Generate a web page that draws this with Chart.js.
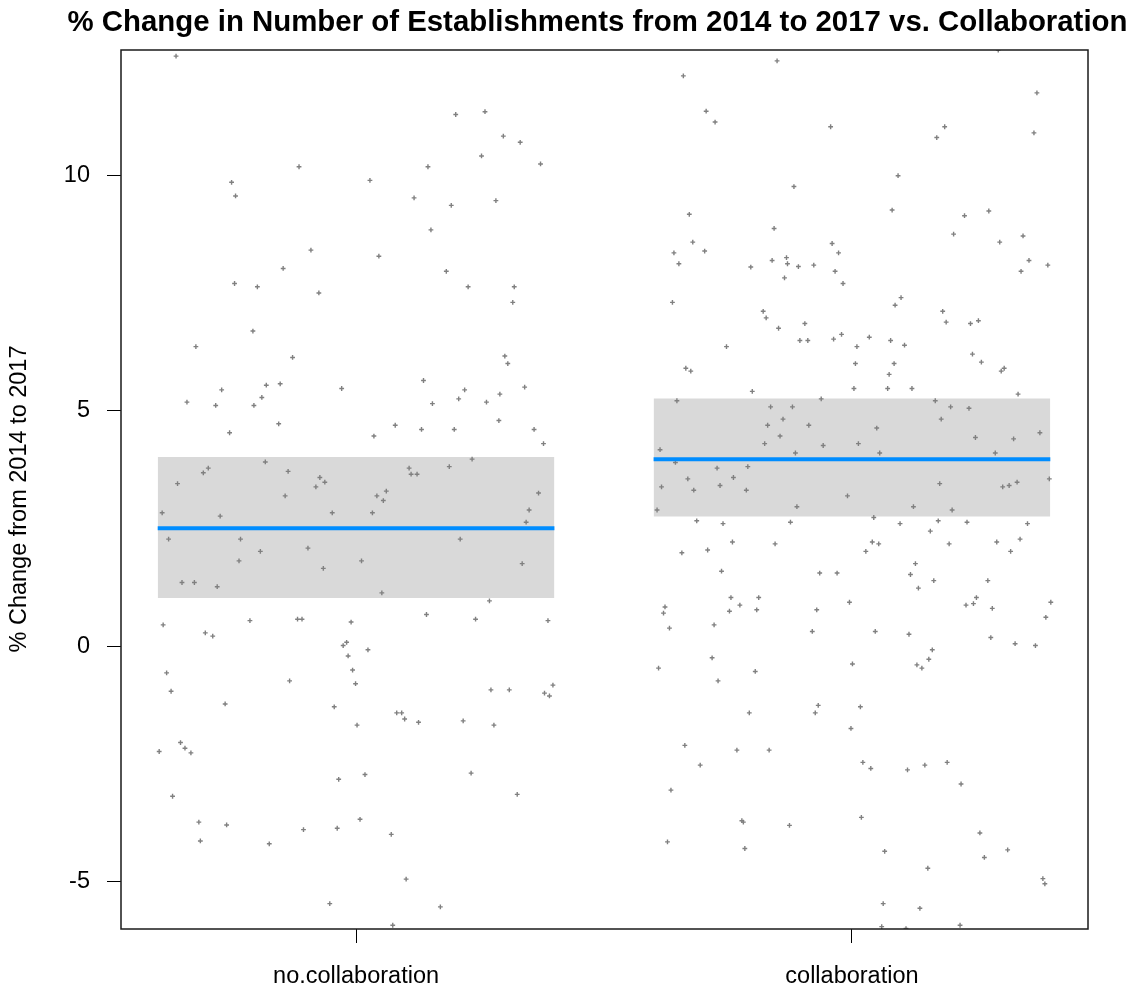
<!DOCTYPE html>
<html><head><meta charset="utf-8">
<script src="https://cdn.jsdelivr.net/npm/chart.js@4.4.1/dist/chart.umd.min.js"></script>
<style>html,body{margin:0;padding:0;background:#fff}canvas{display:block}</style>
</head><body>
<canvas id="c" width="1143" height="992"></canvas>
<script>
const chartTitle = '% Change in Number of Establishments from 2014 to 2017 vs. Collaboration';
const yAxisLabel = '% Change from 2014 to 2017';
const categories = ['no.collaboration', 'collaboration'];
const yTickValues = [-5, 0, 5, 10];
const fitValues = [2.50, 3.97];
const bandLower = [1.02, 2.75];
const bandUpper = [4.015, 5.26];

const noCollabJitter = [
-0.363,0.201,0.260,0.297,0.331,0.253,0.145,0.372,-0.115,-0.251,
-0.243,0.028,0.117,0.192,0.282,0.151,-0.091,0.046,-0.147,0.182,
-0.245,-0.199,-0.075,0.226,0.319,0.316,-0.208,-0.323,-0.128,0.300,
0.306,0.136,-0.271,-0.181,-0.153,-0.029,0.219,0.340,-0.341,-0.283,
-0.206,-0.190,0.154,0.207,0.263,0.290,0.288,-0.156,-0.255,0.079,
0.036,0.132,0.198,0.359,0.378,0.234,-0.183,-0.298,-0.308,-0.137,
0.107,0.111,0.123,0.188,-0.360,-0.073,-0.063,-0.081,-0.143,0.042,
0.061,0.055,0.368,-0.391,-0.274,-0.048,0.033,0.349,0.343,-0.378,
-0.233,0.210,-0.193,-0.097,-0.236,0.011,-0.066,0.335,-0.351,-0.326,
-0.280,0.052,0.269,0.142,0.241,-0.389,-0.214,-0.118,-0.109,-0.010,
0.387,-0.304,-0.289,-0.026,-0.019,0.024,-0.016,-0.007,-0.001,-0.382,
-0.373,-0.134,-0.264,-0.044,0.002,0.082,0.092,0.098,0.126,0.216,
0.278,0.272,0.309,0.380,0.390,0.397,-0.354,-0.345,-0.397,-0.333,
-0.035,0.018,0.232,0.325,-0.370,-0.317,-0.261,-0.314,-0.175,-0.106,
-0.038,0.008,0.071,0.101,-0.053,0.170,0.074];
const noCollabValues = [
12.53,11.29,11.35,10.83,10.70,10.41,10.18,10.24,10.18,9.85,
9.56,9.89,9.52,9.36,9.46,8.84,8.41,8.28,8.02,7.96,
7.70,7.63,7.50,7.63,7.63,7.30,6.69,6.36,6.13,6.16,
6.00,5.64,5.44,5.54,5.57,5.47,5.44,5.50,5.18,5.11,
5.11,5.28,5.15,5.25,5.18,5.35,4.79,4.72,4.53,4.69,
4.46,4.60,4.60,4.60,4.30,3.97,3.91,3.78,3.68,3.71,
3.78,3.65,3.65,3.81,3.45,3.58,3.48,3.38,3.19,3.19,
3.29,3.09,3.25,2.83,2.76,2.83,2.83,2.89,2.63,2.27,
2.27,2.27,2.01,2.08,1.81,1.81,1.65,1.75,1.35,1.35,
1.26,1.13,0.96,0.67,0.57,0.45,0.54,0.57,0.57,0.51,
0.54,0.28,0.21,0.01,0.08,-0.08,-0.21,-0.51,-0.80,-0.57,
-0.96,-0.74,-1.23,-1.29,-1.68,-1.42,-1.42,-1.55,-1.62,-1.59,
-1.68,-0.93,-0.93,-1.00,-1.06,-0.83,-2.05,-2.17,-2.24,-2.27,
-2.83,-2.73,-2.70,-3.15,-3.19,-3.74,-3.80,-4.14,-4.20,-3.90,
-3.87,-3.68,-4.00,-4.95,-5.47,-5.54,-5.93];

const collabJitter = [
0.295,-0.151,-0.340,0.373,-0.294,-0.276,-0.043,0.187,0.171,0.367,
0.093,-0.117,0.081,0.227,0.276,-0.328,-0.157,0.205,0.298,0.345,
-0.321,-0.359,-0.297,-0.349,-0.040,-0.027,-0.161,-0.132,-0.130,-0.108,
-0.077,-0.204,-0.034,-0.136,-0.018,0.357,0.341,0.395,-0.362,0.099,
0.087,0.183,0.190,0.239,0.255,-0.179,-0.173,-0.148,-0.095,-0.021,
-0.037,0.035,-0.105,-0.089,0.078,0.010,0.106,-0.253,-0.335,-0.325,
0.007,0.085,0.075,0.243,0.261,0.301,0.307,0.004,0.072,0.121,
-0.201,0.335,-0.353,-0.062,0.168,-0.164,-0.120,0.199,0.236,-0.139,
0.180,-0.170,-0.087,0.050,-0.145,0.249,0.326,0.379,-0.176,-0.058,
0.013,-0.387,-0.114,0.056,0.289,-0.356,-0.272,-0.210,-0.331,-0.239,
-0.384,-0.319,-0.266,-0.213,-0.009,0.177,0.304,0.317,0.333,0.398,
-0.393,-0.111,0.124,0.202,-0.313,-0.260,-0.124,0.044,0.097,0.174,
0.232,0.354,0.158,-0.241,-0.155,0.041,0.054,0.196,0.292,0.339,
-0.343,-0.291,0.028,0.320,0.128,-0.263,-0.065,-0.030,0.118,0.165,
0.274,0.134,-0.244,-0.188,-0.226,-0.247,-0.192,-0.071,-0.005,-0.377,
-0.380,0.230,0.245,0.251,0.283,0.401,0.391,-0.368,-0.278,-0.080,
0.047,0.115,0.280,0.329,0.370,0.162,0.155,0.131,0.141,0.001,
-0.282,-0.390,-0.195,-0.270,-0.068,-0.074,0.017,-0.207,-0.002,-0.337,
-0.232,-0.167,-0.306,0.022,0.038,0.112,0.147,0.192,0.220,-0.365,
-0.222,-0.219,-0.126,0.019,0.258,-0.372,-0.216,0.066,0.267,0.314,
0.153,0.385,0.389,0.063,0.137,0.060,0.109,0.218];
const collabValues = [
12.66,12.43,12.11,11.75,11.36,11.13,11.03,11.03,10.80,10.90,
9.99,9.76,9.26,9.14,9.24,9.17,8.87,8.75,8.58,8.71,
8.58,8.35,8.39,8.12,8.55,8.35,8.19,8.25,8.12,8.06,
8.09,8.05,7.96,7.82,7.70,8.19,7.96,8.09,7.30,7.40,
7.24,7.11,6.88,6.85,6.91,7.11,6.97,6.75,6.85,6.62,
6.52,6.56,6.49,6.49,6.49,6.36,6.39,6.36,5.90,5.84,
6.00,6.00,5.77,6.20,6.03,5.84,5.90,5.47,5.47,5.47,
5.41,5.35,5.21,5.25,5.21,5.08,5.08,5.08,5.05,4.82,
4.82,4.69,4.69,4.63,4.46,4.43,4.40,4.53,4.30,4.26,
4.30,4.17,4.10,4.10,4.10,3.90,3.78,3.81,3.55,3.58,
3.38,3.31,3.41,3.31,3.19,3.45,3.38,3.41,3.48,3.55,
2.89,2.96,2.96,2.89,2.66,2.60,2.63,2.73,2.60,2.66,
2.63,2.60,2.44,2.21,2.17,2.21,2.17,2.17,2.21,2.27,
1.98,2.04,2.01,2.01,1.75,1.59,1.55,1.55,1.52,1.39,
1.39,1.23,1.03,1.03,0.87,0.74,0.77,0.77,0.93,0.83,
0.70,0.87,0.90,1.03,0.80,0.93,0.61,0.38,0.45,0.31,
0.31,0.25,0.18,0.05,0.01,-0.08,-0.28,-0.40,-0.47,-0.38,
-0.25,-0.47,-0.54,-0.74,-1.26,-1.42,-1.29,-1.42,-1.75,-2.11,
-2.21,-2.21,-2.53,-2.47,-2.60,-2.63,-2.53,-2.47,-2.93,-3.06,
-3.71,-3.74,-3.81,-3.64,-3.97,-4.16,-4.30,-4.36,-4.49,-4.33,
-4.72,-4.94,-5.05,-5.47,-5.57,-5.96,-6.00,-5.93];

const FONT = '"Liberation Sans", Arial, sans-serif';
const BAND_HALF = 0.4;
const jitters = [noCollabJitter, collabJitter];
const values = [noCollabValues, collabValues];

const datasets = [];
categories.forEach((cat, i) => {
  const cx = i + 1;
  datasets.push({
    type: 'line', label: cat + ' upper',
    data: [{x: cx - BAND_HALF, y: bandUpper[i]}, {x: cx + BAND_HALF, y: bandUpper[i]}],
    borderColor: 'rgba(0,0,0,0)', borderWidth: 1, pointRadius: 0, fill: false, order: 10
  });
  datasets.push({
    type: 'line', label: cat + ' lower',
    data: [{x: cx - BAND_HALF, y: bandLower[i]}, {x: cx + BAND_HALF, y: bandLower[i]}],
    borderColor: 'rgba(0,0,0,0)', borderWidth: 1, pointRadius: 0,
    fill: '-1', backgroundColor: '#D9D9D9', order: 10
  });
});
categories.forEach((cat, i) => {
  datasets.push({
    type: 'scatter', label: cat + ' points',
    data: jitters[i].map((j, k) => ({x: i + 1 + j, y: values[i][k]})),
    pointStyle: 'cross', pointRadius: 2.4, pointBorderWidth: 1.4,
    pointBackgroundColor: '#808080', pointBorderColor: '#808080', order: 5
  });
});
categories.forEach((cat, i) => {
  const cx = i + 1;
  datasets.push({
    type: 'line', label: cat + ' fit',
    data: [{x: cx - BAND_HALF, y: fitValues[i]}, {x: cx + BAND_HALF, y: fitValues[i]}],
    borderColor: '#008DFF', borderWidth: 4, pointRadius: 0, fill: false, order: 1
  });
});

const decor = {
  id: 'decor',
  afterDatasetsDraw(chart) {
    const {ctx, chartArea: a} = chart;
    ctx.save();
    ctx.strokeStyle = '#1a1a1a';
    ctx.lineWidth = 1.5;
    ctx.strokeRect(a.left, a.top, a.right - a.left, a.bottom - a.top);
    ctx.restore();
  },
  afterDraw(chart) {
    const {ctx} = chart;
    ctx.save();
    ctx.fillStyle = '#000';
    ctx.font = 'bold 29.4px ' + FONT;
    ctx.textAlign = 'center';
    ctx.textBaseline = 'alphabetic';
    ctx.fillText(chartTitle, 597.5, 31);
    ctx.translate(20, 499);
    ctx.rotate(-Math.PI / 2);
    ctx.font = '23.5px ' + FONT;
    ctx.textBaseline = 'middle';
    ctx.fillText(yAxisLabel, 0, 0);
    ctx.restore();
  }
};

new Chart(document.getElementById('c'), {
  type: 'scatter',
  data: {datasets},
  options: {
    responsive: false,
    animation: false,
    layout: {padding: {top: 50, right: 55, bottom: 0, left: 0}},
    plugins: {legend: {display: false}, tooltip: {enabled: false}},
    scales: {
      x: {
        type: 'linear', min: 0.526, max: 2.476,
        afterBuildTicks: s => { s.ticks = categories.map((c, i) => ({value: i + 1})); },
        afterFit: s => { s.height = 63; },
        ticks: {
          callback: v => categories[Math.round(v) - 1],
          font: {family: FONT, size: 23.5}, color: '#000', padding: 19,
          maxRotation: 0, autoSkip: false
        },
        grid: {drawOnChartArea: false, drawTicks: true, tickLength: 14, color: '#000', lineWidth: 1},
        border: {display: false}
      },
      y: {
        type: 'linear', min: -6.01, max: 12.66,
        afterBuildTicks: s => { s.ticks = yTickValues.map(v => ({value: v})); },
        afterFit: s => { s.width = 121; },
        ticks: {
          callback: v => String(v),
          font: {family: FONT, size: 23.5}, color: '#000', padding: 17
        },
        grid: {drawOnChartArea: false, drawTicks: true, tickLength: 14, color: '#000', lineWidth: 1},
        border: {display: false}
      }
    }
  },
  plugins: [decor]
});
</script>
</body></html>
